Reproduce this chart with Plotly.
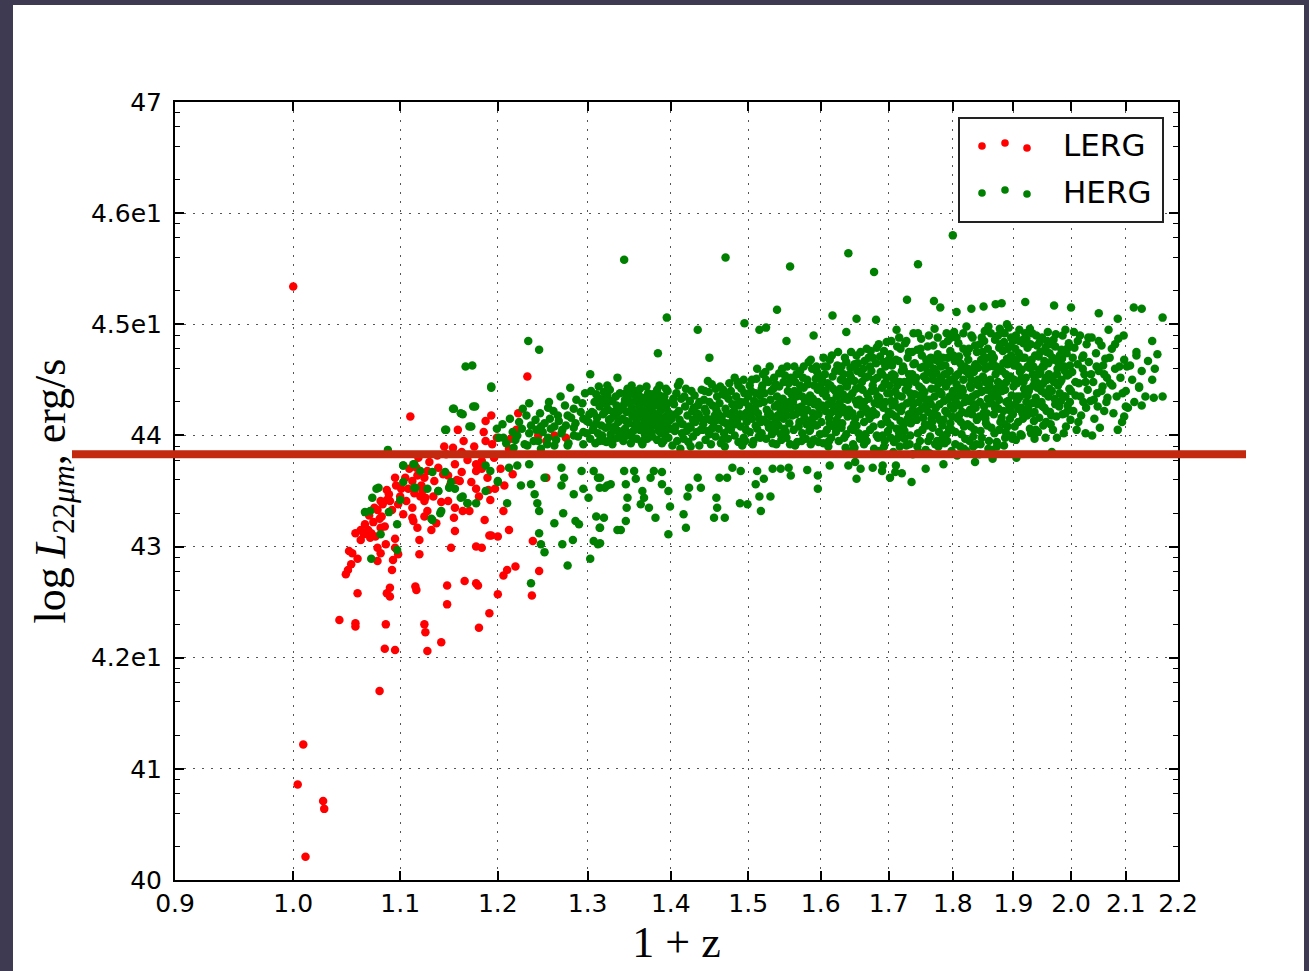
import math
import plotly.graph_objects as go

# ---------------- data ----------------
x_tickvals = [0.9, 1.0, 1.1, 1.2, 1.3, 1.4, 1.5, 1.6, 1.7, 1.8, 1.9, 2.0, 2.1, 2.2]
x_ticklabels = ["0.9", "1.0", "1.1", "1.2", "1.3", "1.4", "1.5", "1.6", "1.7", "1.8", "1.9", "2.0", "2.1", "2.2"]
y_tickvals = [40, 41, 42, 43, 44, 45, 46, 47]
y_ticklabels = ["40", "41", "4.2e1", "43", "44", "4.5e1", "4.6e1", "47"]
threshold = 43.83

lerg_points = [
    (1.000,45.34),(1.080,41.70),(1.009,41.22),(1.004,40.86),(1.027,40.71),(1.028,40.64),(1.011,40.21),
    (1.110,44.17),(1.158,44.05),(1.193,44.18),(1.187,44.13),(1.185,44.03),(1.187,43.95),(1.194,43.92),(1.153,43.89),
    (1.162,43.85),(1.146,43.83),(1.177,43.74),(1.183,43.70),(1.177,43.68),(1.155,43.74),(1.162,43.67),(1.160,43.59),
    (1.148,43.64),(1.143,43.65),(1.138,43.71),(1.127,43.68),(1.124,43.62),(1.134,43.59),(1.117,43.64),(1.116,43.71),
    (1.112,43.59),(1.101,43.52),(1.108,43.52),(1.095,43.62),(1.087,43.51),(1.090,43.41),(1.098,43.38),(1.092,43.33),
    (1.082,43.27),(1.078,43.33),(1.075,43.35),(1.080,43.25),(1.085,43.18),(1.095,43.07),(1.093,42.88),(1.092,42.79),
    (1.098,42.93),(1.090,42.63),(1.087,42.58),(1.090,42.55),(1.085,42.08),(1.095,42.07),(1.086,42.30),(1.059,42.58),
    (1.042,42.34),(1.057,42.31),(1.057,42.28),(1.048,42.75),(1.050,42.79),(1.053,42.84),(1.051,42.96),(1.054,42.94),
    (1.059,42.89),(1.057,43.12),(1.062,43.15),(1.065,43.11),(1.062,43.06),(1.072,43.12),(1.071,43.08),(1.076,43.09),
    (1.078,42.99),(1.081,42.94),(1.078,42.87),(1.069,43.15),(1.086,43.02),(1.095,42.99),(1.081,43.17),(1.087,43.42),
    (1.081,43.41),(1.112,43.26),(1.113,43.23),(1.117,43.17),(1.119,43.06),(1.119,42.93),(1.124,43.27),(1.127,43.32),
    (1.131,43.15),(1.136,43.21),(1.124,43.41),(1.120,43.45),(1.125,43.44),(1.122,43.50),(1.103,43.29),(1.112,43.35),
    (1.106,43.41),(1.148,43.41),(1.155,43.35),(1.154,43.26),(1.155,43.14),(1.163,43.32),(1.170,43.32),(1.151,42.99),
    (1.177,43.00),(1.183,42.99),(1.193,43.10),(1.186,43.24),(1.192,43.42),(1.177,43.52),(1.190,43.51),(1.197,43.52),
    (1.183,43.77),(1.115,42.64),(1.116,42.61),(1.147,42.65),(1.165,42.69),(1.177,42.67),(1.179,42.65),(1.147,42.48),
    (1.191,42.40),(1.124,42.30),(1.125,42.23),(1.141,42.14),(1.127,42.06),(1.180,42.27),(1.200,42.57),
    (1.232,44.53),(1.222,44.20),(1.220,44.05),(1.212,43.88),(1.214,43.97),(1.244,44.00),(1.253,43.95),(1.275,43.98),
    (1.253,43.62),(1.206,43.32),(1.212,43.15),(1.200,43.09),(1.191,43.10),(1.238,43.05),(1.219,42.82),(1.210,42.79),
    (1.206,42.74),(1.245,42.78),(1.237,42.56),(1.262,44.00),
    (1.066,43.20),(1.070,43.28),(1.074,43.22),(1.083,43.38),(1.089,43.47),(1.096,43.55),(1.100,43.45),(1.105,43.62),
    (1.109,43.70),(1.114,43.48),(1.118,43.80),(1.121,43.55),(1.129,43.76),(1.133,43.45),(1.137,43.82),(1.141,43.40),
    (1.144,43.90),(1.150,43.55),(1.157,43.60),(1.164,43.95),(1.168,43.78),(1.172,43.58),(1.175,43.90),(1.180,43.45),
    (1.189,43.62),(1.196,43.80),(1.199,43.98),(1.203,43.70),(1.207,43.55),(1.216,43.65),
]

herg_low_z = [
    (1.154,44.24),(1.176,44.26),(1.163,44.19),(1.172,44.08),(1.145,44.05),(1.088,43.87),(1.103,43.73),(1.113,43.74),
    (1.132,43.67),(1.145,43.67),(1.151,43.58),(1.138,43.50),(1.127,43.52),(1.114,43.53),(1.103,43.58),(1.077,43.52),
    (1.073,43.44),(1.066,43.31),(1.089,43.31),(1.100,43.42),(1.097,43.20),(1.081,43.11),(1.097,42.97),(1.072,42.89),
    (1.161,43.44),(1.168,43.39),(1.140,43.30),(1.131,43.25),(1.187,43.50),(1.187,43.73),(1.192,43.68),(1.200,43.59),
    (1.079,43.53),(1.071,43.32),(1.166,44.62),(1.193,44.43),
    (1.233,44.85),(1.245,44.77),(1.173,44.63),(1.193,44.44),(1.153,44.24),(1.161,44.20),(1.174,44.26),(1.146,44.05),
    (1.170,44.08),(1.199,44.06),(1.234,44.29),(1.227,44.24),(1.303,44.55),(1.323,44.45),(1.319,44.39),(1.329,44.31),
    (1.314,44.33),(1.294,44.29),(1.284,44.24),(1.277,44.18),(1.255,44.25),(1.266,44.18),(1.257,44.15),(1.247,44.08),
    (1.242,44.05),(1.262,44.08),(1.275,44.09),(1.286,44.11),(1.295,44.15),(1.307,44.20),(1.320,44.21),(1.333,44.18),
    (1.310,44.11),(1.325,44.08),(1.299,44.02),(1.284,44.00),(1.270,44.02),(1.255,43.98),(1.244,43.95),(1.232,43.91),
    (1.217,43.89),(1.206,43.98),(1.221,44.00),(1.314,43.95),(1.329,43.95),(1.295,43.92),(1.277,43.91),(1.262,43.91),
    (1.247,43.88),(1.234,43.74),(1.221,43.73),(1.212,43.71),(1.270,43.71),(1.273,43.62),(1.270,43.55),(1.251,43.62),
    (1.236,43.56),(1.225,43.55),(1.240,43.47),(1.243,43.39),(1.245,43.32),(1.262,43.21),(1.245,43.12),(1.247,43.02),
    (1.251,42.95),(1.271,43.02),(1.272,43.30),(1.284,43.47),(1.295,43.52),(1.293,43.68),(1.307,43.68),(1.312,43.62),
    (1.323,43.55),(1.314,43.53),(1.301,43.44),(1.310,43.27),(1.314,43.17),(1.307,43.05),(1.312,43.02),(1.303,42.89),
    (1.283,43.06),(1.286,43.23),(1.290,43.20),(1.277,42.83),(1.335,43.15),(1.236,42.67),(1.210,43.39),(1.200,43.58),
    (1.177,43.39),(1.168,43.39),(1.155,43.52),(1.141,43.32),(1.132,43.24),(1.114,43.74),(1.103,43.73),(1.163,43.45),
    (1.120,43.68),(1.115,43.53),(1.138,43.50),(1.149,43.53),
    (1.201,43.98),(1.205,44.10),(1.209,43.93),(1.213,44.15),(1.216,44.03),(1.219,43.96),(1.223,44.12),(1.226,44.06),
    (1.229,43.92),(1.231,44.18),(1.234,44.02),(1.236,44.09),(1.239,43.95),(1.241,44.14),(1.246,44.20),(1.249,44.03),
    (1.251,44.11),(1.254,43.92),(1.258,44.06),(1.261,44.22),(1.264,43.96),(1.267,44.13),(1.271,44.05),(1.274,44.27),
    (1.278,43.93),(1.281,44.16),(1.284,44.07),(1.287,44.32),(1.289,43.99),(1.292,44.21),(1.295,44.03),(1.297,44.38),
    (1.299,44.13),(1.256,44.30),(1.269,44.35),(1.280,44.43),
]

herg_below_line = [
    (1.3145,43.62),(1.320,43.53),(1.327,43.56),(1.343,43.68),(1.345,43.56),(1.347,43.44),(1.346,43.35),(1.345,43.23),
    (1.339,43.15),(1.319,43.26),(1.3145,43.17),(1.3145,43.03),(1.355,43.68),(1.357,43.61),(1.365,43.50),(1.363,43.38),
    (1.367,43.44),(1.375,43.62),(1.379,43.68),(1.389,43.67),(1.389,43.56),(1.397,43.50),(1.399,43.36),(1.397,43.11),
    (1.381,43.26),(1.373,43.35),(1.419,43.17),(1.416,43.29),(1.421,43.45),(1.423,43.53),(1.434,43.62),(1.438,43.53),
    (1.458,43.44),(1.459,43.35),(1.455,43.26),(1.469,43.26),(1.462,43.62),(1.472,43.62),(1.479,43.71),(1.490,43.68),
    (1.489,43.39),(1.499,43.38),(1.512,43.68),(1.521,43.61),(1.510,43.56),(1.515,43.45),(1.517,43.32),(1.530,43.45),
    (1.533,43.70),(1.544,43.70),(1.558,43.64),(1.555,43.71),(1.581,43.69),(1.596,43.64),(1.596,43.52),(1.613,43.73),
    (1.640,43.73),(1.650,43.76),(1.658,43.70),(1.676,43.71),(1.691,43.73),(1.702,43.62),(1.711,43.73),
    (1.757,43.70),(1.785,43.74),(1.836,43.76),(1.865,43.79),(1.905,43.80),(1.652,43.61),(1.966,43.85),(1.735,43.58),
    (1.690,43.68),(1.710,43.67),(1.720,43.66),
]

herg_outliers = [
    (1.343,45.58),(1.470,45.60),(1.557,45.52),(1.640,45.64),(1.678,45.47),(1.539,45.13),(1.395,45.06),(1.434,44.95),
    (1.495,45.01),(1.515,44.95),(1.524,44.97),(1.552,44.85),(1.617,45.08),(1.652,45.05),(1.681,45.04),(1.384,44.74),
    (1.449,44.70),(1.335,44.52),(1.590,44.90),(1.637,44.93),
    (1.800,45.80),(1.745,45.54),(1.728,45.22),(1.770,45.21),(1.780,45.15),(1.806,45.11),(1.830,45.14),(1.850,45.16),
    (1.870,45.18),(1.880,45.19),(1.920,45.20),(1.970,45.17),(2.000,45.15),(2.050,45.10),(2.115,45.15),(2.130,45.14),
    (2.170,45.06),(2.085,45.05),(2.150,44.85),(2.160,44.73),(2.155,44.60),(2.153,44.34),(2.170,44.35),(2.130,44.27),
    (2.125,44.43),(2.120,44.75),(2.100,44.26),(2.097,44.17),
]

herg_core_a = [
    (1.301,44.12),(1.303,43.97),(1.305,44.21),(1.306,44.05),(1.308,44.30),(1.309,43.93),(1.311,44.16),(1.312,44.02),
    (1.314,44.26),(1.315,43.99),(1.316,44.09),(1.318,44.19),(1.319,43.95),(1.320,44.33),(1.304,44.40),(1.313,44.44),
    (1.321,44.07),(1.322,43.94),(1.324,44.23),(1.325,44.14),(1.327,44.01),(1.328,44.31),(1.329,43.92),(1.331,44.18),
    (1.332,44.08),(1.334,44.27),(1.335,43.98),(1.336,44.12),(1.338,44.38),(1.339,44.03),(1.323,44.36),(1.330,44.21),
    (1.337,44.22),(1.326,43.96),
    (1.341,44.15),(1.342,43.95),(1.343,44.28),(1.344,44.06),(1.346,44.21),(1.347,44.00),(1.348,44.36),(1.349,44.11),
    (1.351,43.93),(1.352,44.25),(1.353,44.17),(1.354,44.04),(1.355,44.40),(1.356,44.09),(1.357,44.31),(1.358,43.97),
    (1.359,44.20),(1.345,44.13),(1.350,44.02),(1.352,44.45),(1.358,44.14),(1.344,44.32),
    (1.361,44.26),(1.362,44.05),(1.363,44.18),(1.364,43.94),(1.365,44.34),(1.366,44.10),(1.367,44.22),(1.368,44.01),
    (1.369,44.29),(1.370,44.14),(1.371,43.97),(1.372,44.38),(1.373,44.08),(1.374,44.24),(1.375,44.17),(1.376,44.03),
    (1.377,44.31),(1.378,44.12),(1.379,44.20),(1.362,44.42),(1.366,44.16),(1.369,44.07),(1.373,44.28),(1.377,43.99),
    (1.365,43.92),(1.371,44.34),
    (1.381,44.09),(1.382,44.27),(1.383,43.96),(1.384,44.19),(1.385,44.04),(1.386,44.36),(1.387,44.13),(1.388,44.23),
    (1.389,43.93),(1.390,44.30),(1.391,44.07),(1.392,44.16),(1.393,44.01),(1.394,44.25),(1.395,44.11),(1.396,44.40),
    (1.397,43.98),(1.398,44.20),(1.399,44.06),(1.384,44.33),(1.388,44.02),(1.392,44.35),(1.395,44.18),(1.386,44.45),
    (1.401,44.15),(1.402,43.91),(1.404,44.28),(1.405,44.04),(1.407,44.38),(1.408,43.95),(1.410,44.22),(1.412,43.88),
    (1.413,44.33),(1.415,44.10),(1.416,43.97),(1.418,44.26),(1.419,44.42),(1.406,44.19),(1.414,44.02),
    (1.421,44.18),(1.422,43.94),(1.424,44.31),(1.425,44.07),(1.427,44.22),(1.428,43.99),(1.430,44.36),(1.431,44.12),
    (1.433,44.03),(1.434,44.27),(1.436,43.91),(1.437,44.16),(1.439,44.41),(1.423,44.08),(1.429,44.25),(1.435,44.19),
    (1.438,44.05),
    (1.441,44.10),(1.442,44.32),(1.444,43.96),(1.445,44.21),(1.447,44.04),(1.448,44.39),(1.450,44.14),(1.451,43.92),
    (1.453,44.27),(1.454,44.08),(1.456,44.18),(1.457,43.99),(1.459,44.35),(1.443,44.24),(1.449,44.01),(1.452,44.46),
    (1.455,44.12),(1.458,44.23),
    (1.461,44.06),(1.462,44.29),(1.464,43.93),(1.465,44.17),(1.467,44.41),(1.468,44.02),(1.470,44.24),(1.471,44.11),
    (1.473,43.97),(1.474,44.33),(1.476,44.19),(1.477,44.05),(1.479,44.28),(1.463,44.14),(1.466,44.37),(1.469,43.90),
    (1.472,44.20),(1.475,44.47),(1.478,44.12),
    (1.481,44.22),(1.482,44.00),(1.484,44.35),(1.485,44.13),(1.487,43.94),(1.488,44.27),(1.490,44.08),(1.491,44.42),
    (1.493,44.17),(1.494,43.98),(1.496,44.30),(1.497,44.05),(1.499,44.21),(1.483,44.10),(1.486,44.48),(1.489,44.19),
    (1.492,43.91),(1.495,44.38),(1.498,44.12),
]

herg_core_b = [
    (1.501,44.26),(1.502,44.03),(1.504,44.40),(1.505,44.15),(1.507,43.95),(1.508,44.31),(1.510,44.09),(1.511,44.51),
    (1.513,44.20),(1.514,43.99),(1.516,44.36),(1.517,44.12),(1.519,44.45),(1.503,44.18),(1.506,43.92),(1.509,44.24),
    (1.512,44.06),(1.515,44.29),(1.518,44.02),(1.520,44.55),
    (1.521,44.14),(1.522,44.38),(1.524,43.97),(1.525,44.23),(1.527,44.48),(1.528,44.07),(1.530,44.32),(1.531,44.17),
    (1.533,43.93),(1.534,44.42),(1.536,44.26),(1.537,44.04),(1.539,44.35),(1.523,44.57),(1.526,44.11),(1.529,44.20),
    (1.532,44.01),(1.535,44.52),(1.538,44.13),(1.540,44.28),
    (1.541,44.09),(1.542,44.44),(1.544,44.21),(1.545,43.96),(1.547,44.33),(1.548,44.15),(1.550,44.54),(1.551,44.03),
    (1.553,44.27),(1.554,44.40),(1.556,44.11),(1.557,43.92),(1.559,44.37),(1.543,44.25),(1.546,44.60),(1.549,44.06),
    (1.552,44.18),(1.555,44.47),(1.558,44.24),(1.544,44.01),
    (1.561,44.30),(1.562,44.05),(1.564,44.48),(1.565,44.19),(1.567,43.94),(1.568,44.39),(1.570,44.12),(1.571,44.58),
    (1.573,44.26),(1.574,44.02),(1.576,44.43),(1.577,44.16),(1.579,43.97),(1.563,44.62),(1.566,44.35),(1.569,44.08),
    (1.572,44.21),(1.575,44.52),(1.578,44.31),(1.580,44.10),(1.564,43.91),
    (1.581,44.23),(1.582,44.46),(1.584,44.04),(1.585,44.36),(1.587,44.14),(1.588,44.60),(1.590,43.96),(1.591,44.28),
    (1.593,44.51),(1.594,44.09),(1.596,44.41),(1.597,44.19),(1.599,44.01),(1.583,44.66),(1.586,43.92),(1.589,44.33),
    (1.592,44.17),(1.595,44.57),(1.598,44.25),(1.600,44.45),
    (1.601,44.12),(1.603,44.38),(1.604,43.93),(1.606,44.55),(1.607,44.22),(1.609,44.05),(1.610,44.47),(1.612,44.16),
    (1.613,44.68),(1.615,43.98),(1.616,44.31),(1.618,44.42),(1.619,44.08),(1.602,44.27),(1.605,44.62),(1.608,44.35),
    (1.611,43.90),(1.614,44.20),(1.617,44.53),(1.620,44.26),(1.606,44.02),(1.613,44.11),
    (1.621,44.40),(1.623,44.14),(1.624,44.63),(1.626,43.95),(1.627,44.29),(1.629,44.50),(1.630,44.07),(1.632,44.37),
    (1.633,44.21),(1.635,44.70),(1.636,43.89),(1.638,44.44),(1.639,44.17),(1.622,44.03),(1.625,44.25),(1.628,44.58),
    (1.631,44.11),(1.634,44.33),(1.637,44.01),(1.640,44.48),(1.626,44.19),(1.633,44.55),
    (1.641,44.23),(1.643,44.61),(1.644,44.06),(1.646,44.38),(1.647,43.92),(1.649,44.49),(1.650,44.15),(1.652,44.72),
    (1.653,44.28),(1.655,44.02),(1.656,44.43),(1.658,44.19),(1.659,44.56),(1.642,44.35),(1.645,43.86),(1.648,44.10),
    (1.651,44.31),(1.654,44.65),(1.657,43.97),(1.660,44.26),(1.644,44.52),(1.652,44.09),(1.649,43.89),
    (1.661,44.41),(1.663,44.12),(1.664,44.67),(1.666,44.24),(1.667,43.95),(1.669,44.53),(1.670,44.33),(1.672,44.05),
    (1.673,44.76),(1.675,44.18),(1.676,44.45),(1.678,43.88),(1.679,44.29),(1.662,44.60),(1.665,44.01),(1.668,44.37),
    (1.671,44.15),(1.674,44.58),(1.677,44.08),(1.680,44.40),(1.663,43.92),(1.670,44.70),(1.676,44.22),
    (1.681,44.19),(1.683,44.52),(1.684,43.98),(1.686,44.34),(1.687,44.71),(1.689,44.10),(1.690,44.43),(1.692,44.25),
    (1.693,43.90),(1.695,44.62),(1.696,44.16),(1.698,44.38),(1.699,44.04),(1.682,44.79),(1.685,44.28),(1.688,44.57),
    (1.691,44.00),(1.694,44.47),(1.697,44.84),(1.700,44.21),(1.686,43.86),(1.692,44.66),(1.698,44.12),
]

herg_core_c = [
    (1.701,44.45),(1.703,44.09),(1.705,44.63),(1.706,44.27),(1.708,43.94),(1.709,44.54),(1.711,44.17),(1.713,44.80),
    (1.714,44.36),(1.716,44.02),(1.717,44.48),(1.719,44.22),(1.702,44.73),(1.704,44.31),(1.707,43.85),(1.710,44.40),
    (1.712,44.06),(1.715,44.67),(1.718,44.13),(1.720,44.58),(1.705,44.19),(1.713,43.97),(1.716,44.88),(1.708,44.50),
    (1.721,44.26),(1.723,44.59),(1.724,44.04),(1.726,44.41),(1.727,43.91),(1.729,44.70),(1.731,44.19),(1.732,44.50),
    (1.734,44.11),(1.735,44.33),(1.737,43.83),(1.738,44.64),(1.722,44.08),(1.725,44.83),(1.728,44.29),(1.730,44.45),
    (1.733,44.00),(1.736,44.55),(1.739,44.16),(1.740,44.37),(1.724,43.97),(1.731,44.75),(1.737,44.23),(1.728,44.12),
    (1.741,44.48),(1.743,44.14),(1.744,44.77),(1.746,44.30),(1.748,43.95),(1.749,44.61),(1.751,44.24),(1.752,44.05),
    (1.754,44.53),(1.755,44.39),(1.757,43.87),(1.758,44.68),(1.742,44.20),(1.745,44.02),(1.747,44.44),(1.750,44.87),
    (1.753,44.16),(1.756,44.33),(1.759,44.09),(1.760,44.57),(1.744,43.90),(1.751,44.72),(1.757,44.27),(1.748,44.36),
    (1.761,44.21),(1.763,44.64),(1.764,43.99),(1.766,44.42),(1.767,44.12),(1.769,44.81),(1.771,44.35),(1.772,43.92),
    (1.774,44.56),(1.775,44.18),(1.777,44.47),(1.778,44.03),(1.762,44.90),(1.765,44.28),(1.768,44.07),(1.770,44.60),
    (1.773,44.25),(1.776,44.73),(1.779,44.14),(1.780,44.39),(1.763,43.84),(1.769,44.50),(1.775,43.95),(1.778,44.66),
    (1.766,44.15),
    (1.781,44.52),(1.783,44.09),(1.784,44.70),(1.786,44.31),(1.787,43.93),(1.789,44.44),(1.791,44.20),(1.792,44.85),
    (1.794,44.06),(1.795,44.58),(1.797,44.27),(1.798,43.86),(1.782,44.37),(1.785,44.14),(1.788,44.63),(1.790,44.01),
    (1.793,44.48),(1.796,44.76),(1.799,44.17),(1.800,44.40),(1.784,43.98),(1.790,44.92),(1.796,44.11),(1.787,44.55),
    (1.793,44.33),
    (1.801,44.24),(1.803,44.67),(1.804,44.03),(1.806,44.46),(1.808,44.15),(1.809,44.83),(1.811,44.36),(1.812,43.90),
    (1.814,44.59),(1.815,44.21),(1.817,44.50),(1.818,44.08),(1.802,44.93),(1.805,44.30),(1.807,43.82),(1.810,44.71),
    (1.813,44.12),(1.816,44.40),(1.819,44.62),(1.820,43.97),(1.804,44.53),(1.811,44.27),(1.817,44.78),(1.808,44.42),
    (1.814,44.01),
    (1.821,44.34),(1.823,44.74),(1.824,44.10),(1.826,44.55),(1.827,43.95),(1.829,44.43),(1.831,44.19),(1.832,44.88),
    (1.834,44.28),(1.835,44.05),(1.837,44.64),(1.838,44.37),(1.822,43.86),(1.825,44.68),(1.828,44.23),(1.830,44.50),
    (1.833,43.99),(1.836,44.81),(1.839,44.14),(1.840,44.46),(1.824,44.60),(1.829,44.08),(1.834,44.57),(1.838,43.92),
    (1.826,44.31),
    (1.841,44.61),(1.843,44.17),(1.844,44.82),(1.846,44.39),(1.847,43.98),(1.849,44.53),(1.851,44.26),(1.852,44.94),
    (1.854,44.11),(1.855,44.70),(1.857,44.33),(1.858,43.88),(1.842,44.45),(1.845,44.04),(1.848,44.75),(1.850,44.20),
    (1.853,44.48),(1.856,44.09),(1.859,44.62),(1.860,44.29),(1.843,43.83),(1.850,44.66),(1.856,44.41),(1.847,44.88),
    (1.853,44.15),
    (1.861,44.50),(1.863,44.07),(1.864,44.73),(1.866,44.35),(1.867,44.19),(1.869,44.86),(1.871,44.42),(1.872,43.94),
    (1.874,44.60),(1.875,44.24),(1.877,44.96),(1.878,44.12),(1.862,44.30),(1.865,44.66),(1.868,44.02),(1.870,44.55),
    (1.873,44.37),(1.876,44.79),(1.879,44.46),(1.880,44.16),(1.863,43.87),(1.870,44.27),(1.876,44.05),(1.867,44.62),
    (1.874,44.90),
    (1.881,44.58),(1.883,44.22),(1.884,44.84),(1.886,44.41),(1.887,44.03),(1.889,44.69),(1.891,44.31),(1.892,44.97),
    (1.894,44.15),(1.895,44.53),(1.897,44.36),(1.898,43.97),(1.882,44.76),(1.885,44.10),(1.888,44.48),(1.890,44.64),
    (1.893,44.26),(1.896,44.88),(1.899,44.19),(1.900,44.44),(1.884,43.91),(1.890,44.08),(1.896,44.72),(1.887,44.55),
    (1.893,44.80),
]

herg_core_d = [
    (1.901,44.63),(1.903,44.28),(1.904,44.90),(1.906,44.47),(1.908,44.12),(1.909,44.74),(1.911,44.35),(1.912,44.01),
    (1.914,44.59),(1.915,44.20),(1.917,44.83),(1.918,44.42),(1.902,44.08),(1.905,44.68),(1.907,44.32),(1.910,44.95),
    (1.913,44.51),(1.916,44.15),(1.919,44.70),(1.920,44.38),(1.904,43.96),(1.911,44.57),(1.916,44.86),(1.908,44.24),
    (1.921,44.52),(1.923,44.18),(1.924,44.79),(1.926,44.40),(1.928,44.06),(1.929,44.66),(1.931,44.29),(1.932,44.92),
    (1.934,44.45),(1.935,44.13),(1.937,44.72),(1.938,44.34),(1.922,44.87),(1.925,44.24),(1.927,44.61),(1.930,44.02),
    (1.933,44.55),(1.936,44.21),(1.939,44.48),(1.940,44.81),(1.924,44.36),(1.931,44.68),(1.936,43.97),(1.928,44.96),
    (1.941,44.43),(1.943,44.71),(1.944,44.16),(1.946,44.57),(1.948,44.30),(1.949,44.88),(1.951,44.09),(1.952,44.62),
    (1.954,44.38),(1.955,44.79),(1.957,44.22),(1.958,44.50),(1.942,44.03),(1.945,44.84),(1.947,44.45),(1.950,44.26),
    (1.953,44.67),(1.956,44.12),(1.959,44.93),(1.960,44.35),(1.944,44.59),(1.951,44.47),(1.957,44.75),
    (1.961,44.55),(1.963,44.21),(1.965,44.82),(1.966,44.40),(1.968,44.05),(1.970,44.68),(1.971,44.33),(1.973,44.91),
    (1.974,44.17),(1.976,44.60),(1.977,44.45),(1.979,44.26),(1.962,44.74),(1.964,44.10),(1.967,44.51),(1.969,44.86),
    (1.972,44.28),(1.975,43.98),(1.978,44.65),(1.980,44.38),
    (1.981,44.48),(1.983,44.77),(1.985,44.19),(1.986,44.62),(1.988,44.35),(1.990,44.95),(1.991,44.08),(1.993,44.54),
    (1.994,44.27),(1.996,44.83),(1.997,44.42),(1.999,44.14),(1.982,44.31),(1.984,44.69),(1.987,44.02),(1.989,44.58),
    (1.992,44.74),(1.995,44.23),(1.998,44.63),(2.000,44.40),
    (2.002,44.57),(2.004,44.22),(2.006,44.79),(2.008,44.36),(2.010,44.05),(2.012,44.64),(2.014,44.47),(2.016,44.90),
    (2.018,44.18),(2.020,44.70),(2.022,44.30),(2.024,44.55),(2.026,44.02),(2.028,44.82),(2.030,44.41),(2.005,44.93),
    (2.013,44.12),(2.021,44.60),(2.027,44.25),
    (2.032,44.66),(2.035,44.31),(2.037,44.88),(2.040,44.48),(2.042,44.15),(2.045,44.74),(2.047,44.38),(2.050,44.58),
    (2.052,44.07),(2.055,44.81),(2.057,44.44),(2.060,44.22),(2.062,44.69),(2.065,44.52),(2.068,44.95),(2.038,44.00),
    (2.048,44.26),(2.058,44.63),(2.066,44.34),
    (2.071,44.47),(2.074,44.78),(2.077,44.20),(2.080,44.60),(2.083,44.35),(2.086,44.87),(2.090,44.52),(2.093,44.12),
    (2.097,44.68),(2.100,44.40),(2.104,44.25),(2.108,44.63),(2.112,44.50),(2.116,44.30),(2.120,44.72),(2.125,44.44),
    (2.130,44.58),(2.137,44.35),(2.142,44.67),(2.150,44.50),(2.085,44.05),(2.096,44.90),
]

herg_core_e = [
    (1.302,44.19),(1.307,44.08),(1.310,44.37),(1.317,44.00),(1.322,44.28),(1.327,44.15),(1.333,44.35),(1.336,44.04),
    (1.340,44.24),(1.343,43.99),(1.347,44.42),(1.350,44.30),(1.354,43.97),(1.356,44.36),(1.360,44.09),(1.363,44.32),
    (1.367,43.96),(1.370,44.44),(1.374,44.01),(1.378,44.37),(1.380,44.15),(1.383,44.41),(1.387,44.28),(1.391,43.95),
    (1.394,44.42),(1.398,44.13),(1.318,44.29),(1.331,44.05),(1.353,44.22),(1.368,44.20),(1.376,44.24),(1.389,44.10),
    (1.396,44.29),(1.326,44.41),(1.345,44.38),(1.360,44.37),
    (1.403,44.33),(1.406,44.08),(1.409,44.45),(1.411,44.14),(1.417,44.35),(1.420,44.04),(1.426,44.40),(1.428,44.14),
    (1.432,44.20),(1.436,44.30),(1.440,44.05),(1.443,44.40),(1.446,44.15),(1.449,44.30),(1.452,44.06),(1.457,44.42),
    (1.460,44.20),(1.463,44.44),(1.467,44.12),(1.470,44.36),(1.474,44.06),(1.477,44.40),(1.480,44.16),(1.484,44.28),
    (1.487,44.45),(1.490,44.30),(1.494,44.50),(1.497,44.20),(1.500,44.35),(1.411,44.48),(1.425,43.90),(1.447,44.49),
    (1.466,43.96),(1.482,44.52),(1.496,43.95),
    (1.502,44.45),(1.505,44.50),(1.507,44.23),(1.510,44.38),(1.512,44.60),(1.515,44.15),(1.518,44.42),(1.521,44.30),
    (1.524,44.50),(1.527,44.19),(1.529,44.62),(1.531,44.40),(1.534,44.10),(1.537,44.46),(1.540,44.18),(1.542,44.56),
    (1.545,44.30),(1.548,44.48),(1.550,44.22),(1.553,44.62),(1.556,44.30),(1.558,44.52),(1.560,44.18),(1.563,44.40),
    (1.566,44.55),(1.568,44.25),(1.571,44.45),(1.574,44.35),(1.576,44.62),(1.579,44.22),(1.581,44.50),(1.584,44.30),
    (1.586,44.68),(1.589,44.20),(1.591,44.45),(1.594,44.62),(1.596,44.30),(1.599,44.52),(1.516,43.98),(1.538,43.92),
    (1.552,43.98),(1.573,43.95),(1.590,44.10),(1.597,43.94),(1.585,44.05),
]

herg_core_f = [
    (1.602,44.50),(1.604,44.70),(1.607,44.40),(1.609,44.62),(1.611,44.28),(1.614,44.45),(1.616,44.72),(1.618,44.22),
    (1.621,44.58),(1.623,44.35),(1.625,44.75),(1.628,44.42),(1.630,44.62),(1.632,44.25),(1.635,44.48),(1.637,44.66),
    (1.639,44.32),(1.642,44.55),(1.644,44.75),(1.646,44.20),(1.649,44.64),(1.651,44.42),(1.653,44.58),(1.656,44.32),
    (1.658,44.75),(1.660,44.48),(1.663,44.30),(1.665,44.52),(1.667,44.78),(1.669,44.20),(1.672,44.62),(1.674,44.40),
    (1.676,44.70),(1.678,44.50),(1.681,44.65),(1.683,44.35),(1.685,44.82),(1.688,44.28),(1.690,44.55),(1.693,44.76),
    (1.695,44.30),(1.697,44.52),(1.700,44.68),(1.612,43.95),(1.634,43.98),(1.647,44.05),(1.664,43.98),(1.682,44.00),
    (1.694,43.95),(1.627,44.10),
    (1.702,44.38),(1.704,44.85),(1.706,44.55),(1.709,44.30),(1.711,44.68),(1.713,44.45),(1.715,44.25),(1.718,44.78),
    (1.720,44.35),(1.722,44.62),(1.724,44.48),(1.727,44.85),(1.729,44.15),(1.731,44.55),(1.733,44.38),(1.736,44.75),
    (1.738,44.28),(1.740,44.65),(1.742,44.52),(1.745,44.92),(1.747,44.22),(1.749,44.78),(1.751,44.42),(1.754,44.62),
    (1.756,44.10),(1.758,44.50),(1.760,44.80),(1.763,44.32),(1.765,44.70),(1.767,44.55),(1.770,44.20),(1.772,44.68),
    (1.774,44.42),(1.776,44.88),(1.779,44.28),(1.781,44.62),(1.783,44.48),(1.785,44.82),(1.788,44.22),(1.790,44.55),
    (1.792,44.70),(1.795,44.35),(1.797,44.88),(1.799,44.50),(1.703,43.98),(1.717,43.90),(1.732,43.92),(1.746,43.85),
    (1.761,43.95),(1.777,43.90),(1.791,43.95),(1.798,44.05),(1.712,44.95),(1.738,44.92),(1.771,44.96),
]

herg_core_g = [
    (1.801,44.72),(1.803,44.35),(1.806,44.88),(1.808,44.55),(1.810,44.18),(1.812,44.65),(1.815,44.42),(1.817,44.92),
    (1.819,44.30),(1.821,44.58),(1.823,44.20),(1.826,44.78),(1.828,44.45),(1.830,44.90),(1.832,44.35),(1.835,44.62),
    (1.837,44.25),(1.839,44.75),(1.841,44.50),(1.844,44.30),(1.846,44.68),(1.848,44.40),(1.851,44.85),(1.853,44.60),
    (1.855,44.20),(1.857,44.78),(1.860,44.45),(1.862,44.92),(1.864,44.38),(1.867,44.70),(1.869,44.25),(1.871,44.62),
    (1.874,44.48),(1.876,44.32),(1.878,44.82),(1.881,44.40),(1.883,44.65),(1.885,44.92),(1.888,44.30),(1.890,44.78),
    (1.892,44.52),(1.895,44.22),(1.897,44.68),(1.899,44.85),(1.804,43.92),(1.818,43.88),(1.833,43.90),(1.845,43.92),
    (1.859,43.95),(1.872,43.90),(1.886,43.98),(1.898,44.00),(1.822,44.98),(1.858,44.98),(1.889,45.00),
    (1.901,44.50),(1.903,44.78),(1.906,44.35),(1.908,44.62),(1.910,44.85),(1.913,44.25),(1.915,44.70),(1.917,44.48),
    (1.920,44.92),(1.922,44.30),(1.924,44.62),(1.927,44.42),(1.929,44.82),(1.932,44.20),(1.934,44.62),(1.936,44.50),
    (1.939,44.90),(1.941,44.28),(1.943,44.55),(1.946,44.75),(1.948,44.40),(1.950,44.62),(1.953,44.25),(1.955,44.52),
    (1.958,44.85),(1.960,44.65),(1.962,44.42),(1.965,44.18),(1.967,44.70),(1.970,44.48),(1.972,44.80),(1.975,44.55),
    (1.977,44.30),(1.980,44.72),(1.983,44.50),(1.985,44.90),(1.988,44.62),(1.990,44.35),(1.993,44.78),(1.996,44.55),
    (1.998,44.30),(1.914,44.00),(1.938,44.05),(1.955,43.98),(1.990,44.20),
    (2.003,44.70),(2.008,44.48),(2.012,44.85),(2.017,44.35),(2.022,44.72),(2.026,44.48),(2.031,44.88),(2.036,44.55),
    (2.041,44.32),(2.046,44.62),(2.050,44.85),(2.055,44.40),(2.060,44.55),(2.064,44.30),(2.070,44.70),(2.075,44.45),
    (2.080,44.82),(2.088,44.62),(2.094,44.38),(2.102,44.62),
]

lerg_z = [p[0] for p in lerg_points]
lerg_L = [p[1] for p in lerg_points]
herg_all = (herg_low_z + herg_below_line + herg_outliers + herg_core_a + herg_core_b + herg_core_c
            + herg_core_d + herg_core_e + herg_core_f + herg_core_g)
herg_z = [p[0] for p in herg_all]
herg_L = [p[1] for p in herg_all]

# ---------------- layout constants ----------------
W, H = 1309, 971
L, R, T, B = 175, 131, 102, 91
PW, PH = W - L - R, H - T - B


def px(xp):
    return (xp - L) / PW


def py(yp):
    return (H - B - yp) / PH


FRAME = "#3d3a52"
RED = "#ff0000"
GREEN = "#008000"
LINE_RED = "#c2290f"
TICKFONT = dict(family="DejaVu Sans", size=25, color="black")
SERIF = "Liberation Serif"
MSIZE = 8.5

fig = go.Figure()
fig.add_trace(go.Scatter(x=lerg_z, y=lerg_L, mode="markers", name="LERG",
                         marker=dict(color=RED, size=MSIZE, line=dict(width=0)), showlegend=False))
fig.add_trace(go.Scatter(x=herg_z, y=herg_L, mode="markers", name="HERG",
                         marker=dict(color=GREEN, size=MSIZE, line=dict(width=0)), showlegend=False))

minor_y = []
for n in range(40, 47):
    for f in (0.301, 0.602, 0.778, 0.903):
        minor_y.append(n + f)

axis_common = dict(
    showline=True, linecolor="black", linewidth=2, mirror="allticks",
    ticks="inside", ticklen=9, tickwidth=1.5, tickcolor="black",
    showgrid=True, gridcolor="#555555", gridwidth=1.3, griddash="2px,7px",
    zeroline=False, tickfont=TICKFONT,
)

fig.update_xaxes(
    type="log", range=[math.log10(0.9), math.log10(2.2)],
    tickmode="array", tickvals=x_tickvals, ticktext=x_ticklabels,
    ticklabelstandoff=0,
    title=dict(text="1 + z", font=dict(family=SERIF, size=44, color="black"), standoff=4),
    **axis_common,
)
fig.update_yaxes(
    range=[40, 47], tickmode="array", tickvals=y_tickvals, ticktext=y_ticklabels,
    ticklabelstandoff=6,
    minor=dict(tickmode="array", tickvals=minor_y, ticks="inside", ticklen=5,
               tickcolor="black", tickwidth=1.2, showgrid=False),
    title=dict(text="log\u2009<i>L</i><sub>22<i>μm</i></sub>, erg/s",
               font=dict(family=SERIF, size=44, color="black"), standoff=12),
    **axis_common,
)

shapes = [
    dict(type="rect", xref="paper", yref="paper", layer="below",
         x0=px(13), x1=px(1304), y0=py(H + 20), y1=py(5),
         fillcolor="white", line=dict(width=0)),
    dict(type="line", xref="paper", yref="y", layer="above",
         x0=px(72), x1=px(1246), y0=threshold, y1=threshold,
         line=dict(color=LINE_RED, width=8)),
    dict(type="rect", xref="paper", yref="paper", layer="above",
         x0=px(959), x1=px(1163), y0=py(222), y1=py(118),
         fillcolor="white", line=dict(color="#222222", width=2)),
]
r = 3.8
for (cx, cy, col) in [(982, 146, RED), (1005, 143, RED), (1027, 148, RED),
                      (982, 193, GREEN), (1005, 190, GREEN), (1027, 194, GREEN)]:
    shapes.append(dict(type="circle", xref="paper", yref="paper", layer="above",
                       x0=px(cx - r), x1=px(cx + r), y0=py(cy + r), y1=py(cy - r),
                       fillcolor=col, line=dict(width=0)))

annotations = [
    dict(text="LERG", xref="paper", yref="paper", x=px(1061), y=py(145), xanchor="left", yanchor="middle",
         showarrow=False, font=dict(family="DejaVu Sans", size=31, color="black")),
    dict(text="HERG", xref="paper", yref="paper", x=px(1061), y=py(192), xanchor="left", yanchor="middle",
         showarrow=False, font=dict(family="DejaVu Sans", size=31, color="black")),
]

fig.update_layout(
    width=W, height=H,
    margin=dict(l=L, r=R, t=T, b=B, pad=0),
    paper_bgcolor=FRAME, plot_bgcolor="white",
    shapes=shapes, annotations=annotations,
    showlegend=False,
)

fig.write_html("out.html")
